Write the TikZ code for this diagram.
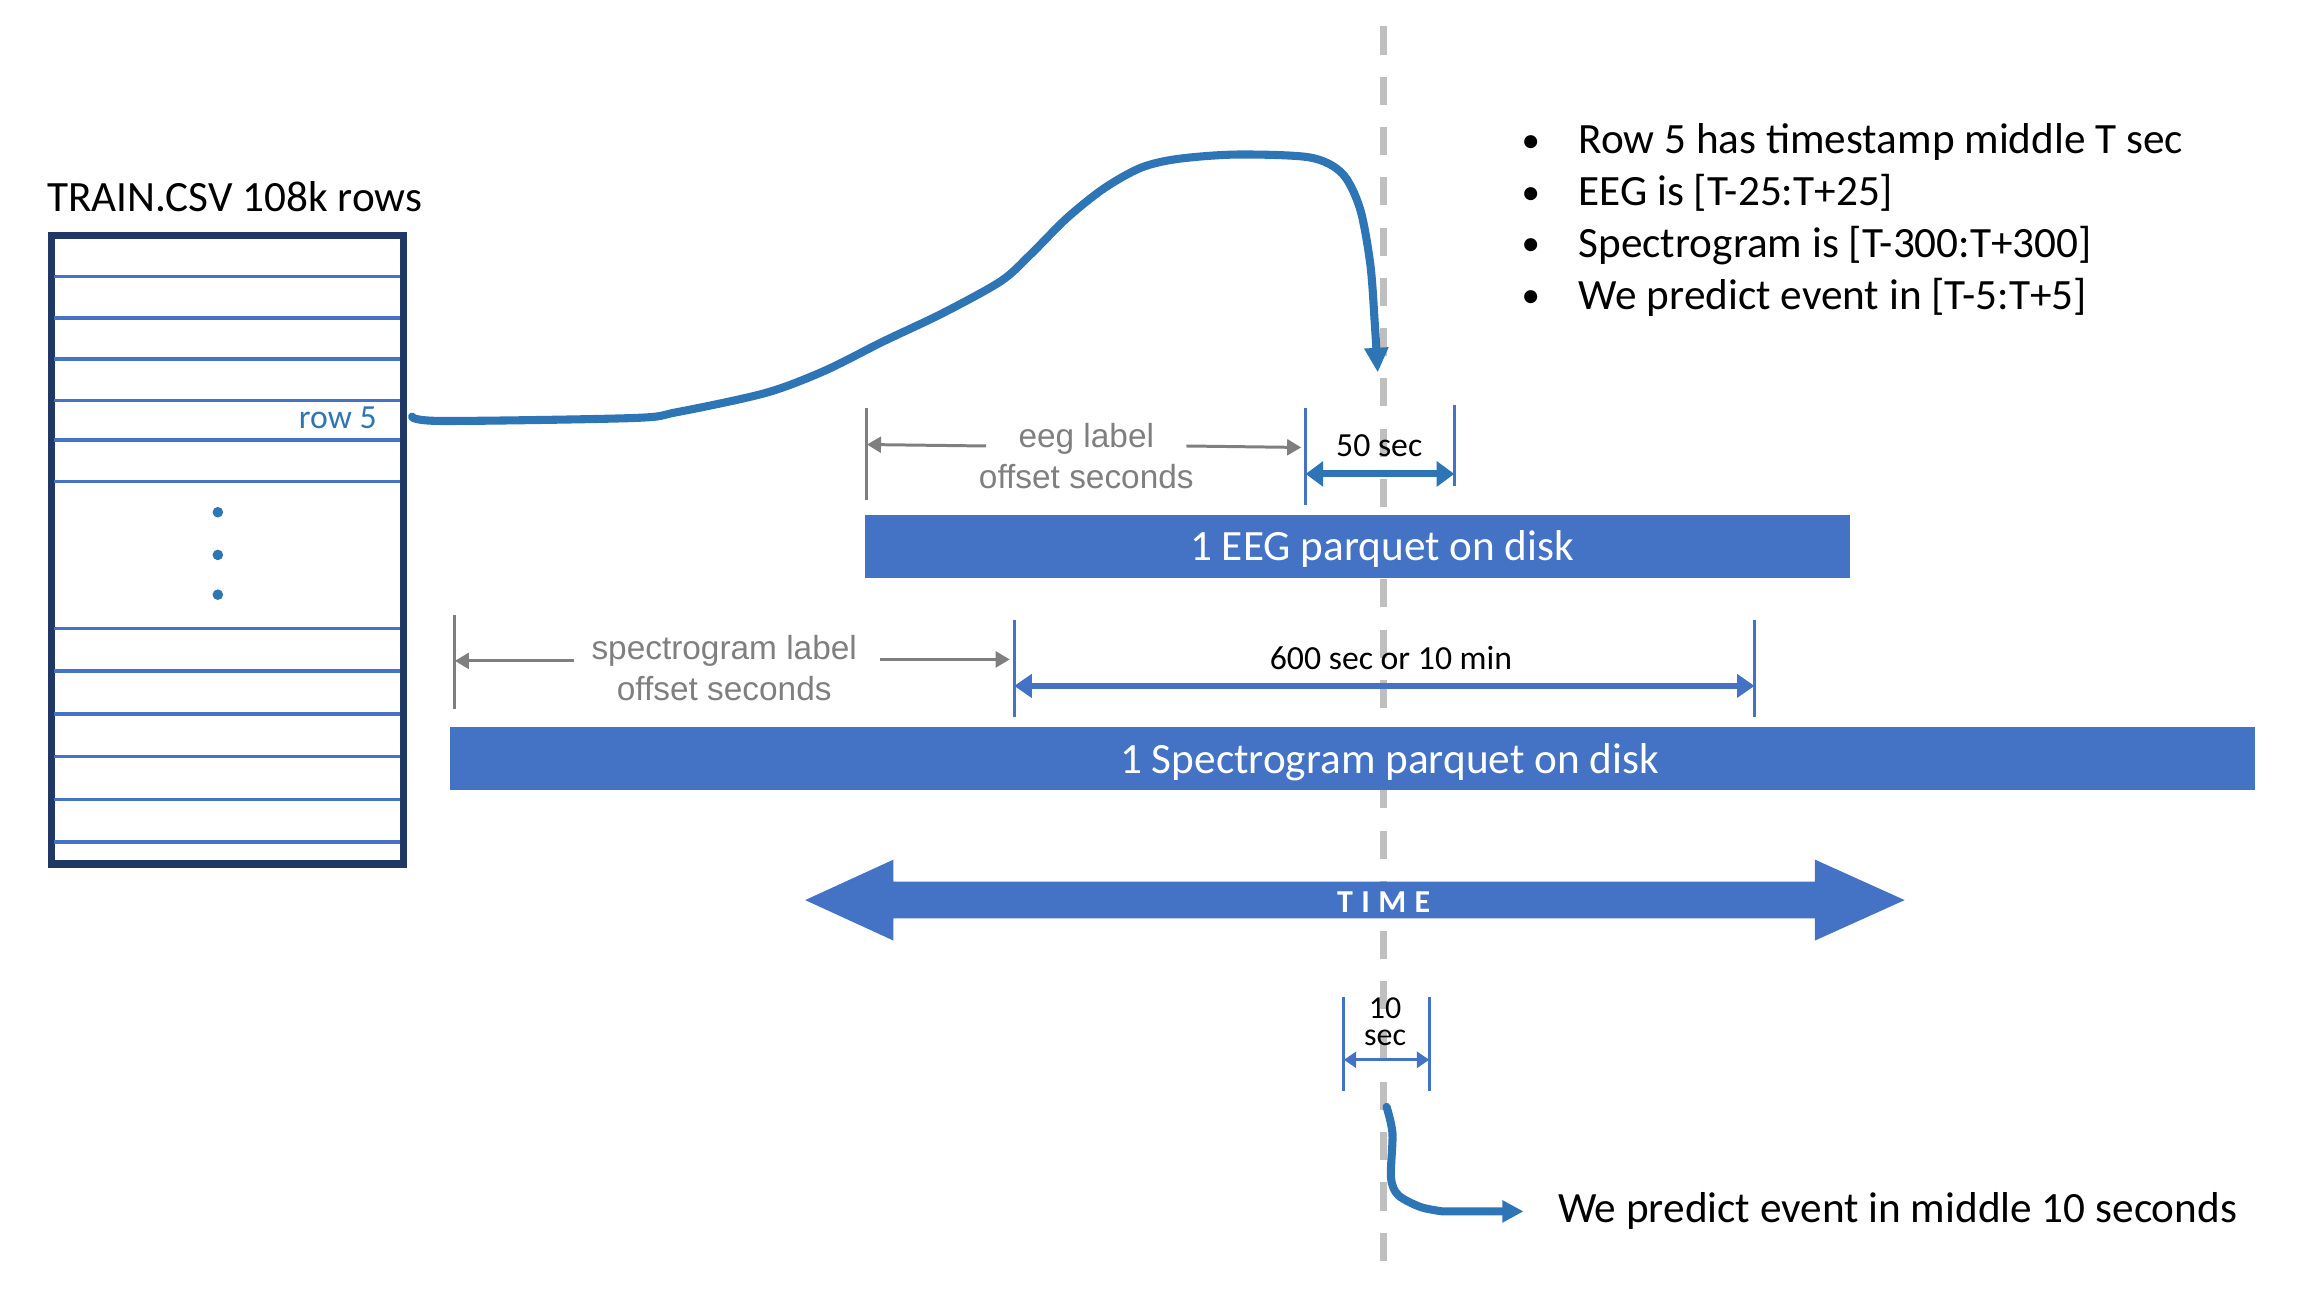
\documentclass[tikz,border=0pt]{standalone}
\usepackage{fontspec}
\setmainfont{Carlito}
\newfontfamily\grisfont{Liberation Sans}
\usepackage{tikz}
\usetikzlibrary{arrows.meta,calc,positioning}
\definecolor{azul}{HTML}{4472C4}
\definecolor{cobalto}{HTML}{2E75B6}
\definecolor{tinta}{HTML}{203864}
\definecolor{niebla}{HTML}{BFBFBF}
\definecolor{pizarra}{HTML}{7F7F7F}

\begin{document}
\begin{tikzpicture}[x=1.472cm,y=1.472cm,>={Triangle[length=4pt,width=4.5pt]},
    every node/.style={inner sep=0pt},
    grande/.style={font=\fontsize{12.3}{14.8}\selectfont},
    chico/.style={font=\fontsize{9.6}{11.5}\selectfont},
    gris/.style={font=\grisfont\fontsize{9.5}{11.7}\selectfont,text=pizarra,align=center},
    barra/.style={fill=azul,minimum height=0.633cm},
    marca/.style={azul,line width=0.85pt},
    flechagris/.style={pizarra,line width=0.85pt,->},
    curva/.style={cobalto,line width=2.3pt,line cap=round,line join=round}]
        \useasboundingbox (0,0) rectangle (15.68,8.80);
        \draw[niebla,line width=2pt,dash pattern=on 8pt off 6.3pt] (9.40,8.62) -- (9.40,0.12);
        \node[grande,anchor=base] (titulo) at (1.595,7.36) {TRAIN.CSV 108k rows};
        \node[draw=tinta,line width=2.1pt,minimum width=3.518cm,minimum height=6.285cm] (tabla) at (1.545,5.065) {};
        \foreach \y in {6.92,6.64,6.36,6.08,5.81,5.53,4.53,4.24,3.95,3.66,3.37,3.08}{\draw[azul,line width=1pt] (0.37,\y) -- (2.72,\y);}
        \foreach \y in {5.32,5.03,4.76}{\fill[cobalto] (1.48,\y) circle (0.036);}
        \node[chico,text=cobalto] (fila) at (2.295,5.96) {row 5};
        \coordinate (r5) at (2.80,5.97);
        \coordinate (t0) at (9.36,6.27);
        \draw[curva,-{Triangle[length=7pt,width=6.5pt]}] plot[smooth,tension=0.5] coordinates {(r5) (3.0,5.94) (4.3,5.96) (4.6,6.0) (5.2,6.13) (5.6,6.28) (6.0,6.48) (6.4,6.67) (6.8,6.89) (7.0,7.07) (7.25,7.32) (7.5,7.52) (7.75,7.66) (8.0,7.72) (8.4,7.75) (8.9,7.73) (9.12,7.62) (9.24,7.38) (9.31,7.0) (9.34,6.6) (t0)};
        \foreach \t [count=\i] in {Row 5 has timestamp middle T sec,EEG is [T-25:T+25],Spectrogram is [T-300:T+300],We predict event in [T-5:T+5]}{
          \node[font=\fontsize{10.5}{12}\selectfont,anchor=base] (p\i) at (10.40,8.12-0.353*\i) {\textbullet};
          \node[grande,anchor=base west] (b\i) at (10.72,8.11-0.353*\i) {\t};
        }
        \coordinate (g1a) at (5.89,6.03);
        \coordinate (g1b) at (5.89,5.40);
        \coordinate (e1a) at (8.87,6.03);
        \coordinate (e1b) at (8.87,5.37);
        \coordinate (e2a) at (9.88,6.05);
        \coordinate (e2b) at (9.88,5.50);
        \draw[pizarra,line width=0.85pt] (g1a) -- (g1b);
        \draw[marca] (e1a) -- (e1b);
        \draw[marca] (e2a) -- (e2b);
        \node[gris] (eeglbl) at (7.38,5.70) {eeg label\\offset seconds};
        \draw[flechagris] (6.70,5.77) -- (g1a |- 0,5.78);
        \draw[flechagris] (8.06,5.77) -- ($(e1a |- 0,5.76)+(-0.03,0)$);
        \node[chico] (cincuenta) at (9.37,5.77) {50 sec};
        \draw[cobalto,line width=2pt,{Triangle[length=5pt,width=7pt]}-{Triangle[length=5pt,width=7pt]}] (e1b |- 0,5.58) -- (e2a |- 0,5.58);
        \node[barra,minimum width=9.848cm] (eeg) at (9.225,5.085) {};
        \node[grande,text=white] (eegtxt) at (9.39,5.07) {1 EEG parquet on disk};
        \coordinate (g2a) at (3.09,4.62);
        \coordinate (g2b) at (3.09,3.98);
        \coordinate (s1a) at (6.89,4.59);
        \coordinate (s1b) at (6.89,3.93);
        \coordinate (s2a) at (11.92,4.59);
        \coordinate (s2b) at (11.92,3.93);
        \draw[pizarra,line width=0.85pt] (g2a) -- (g2b);
        \draw[marca] (s1a) -- (s1b);
        \draw[marca] (s2a) -- (s2b);
        \node[gris] (speclbl) at (4.92,4.26) {spectrogram label\\offset seconds};
        \draw[flechagris] (3.90,4.31) -- (g2a |- 0,4.31);
        \draw[flechagris] (5.98,4.32) -- ($(s1a |- 0,4.32)+(-0.03,0)$);
        \node[chico] (seiscientos) at (9.45,4.33) {600 sec or 10 min};
        \draw[azul,line width=1.6pt,{Triangle[length=5pt,width=6.5pt]}-{Triangle[length=5pt,width=6.5pt]}] (s1b |- 0,4.14) -- (s2a |- 0,4.14);
        \node[barra,minimum width=18.047cm] (espec) at (9.19,3.645) {};
        \node[grande,text=white] (espectxt) at (9.44,3.62) {1 Spectrogram parquet on disk};
        \fill[azul] (5.47,2.685) -- (6.07,2.96) -- (6.07,2.81) -- (12.33,2.81) -- (12.33,2.96) -- (12.94,2.685)
          -- (12.33,2.41) -- (12.33,2.56) -- (6.07,2.56) -- (6.07,2.41) -- cycle;
        \node[font=\bfseries\fontsize{9.1}{11}\selectfont,text=white] (tiempo) at (9.40,2.67) {T\kern2.4pt I\kern2.4pt M\kern2.4pt E};
        \coordinate (d1a) at (9.13,2.03);
        \coordinate (d1b) at (9.13,1.39);
        \coordinate (d2a) at (9.71,2.03);
        \coordinate (d2b) at (9.71,1.39);
        \draw[marca] (d1a) -- (d1b);
        \draw[marca] (d2a) -- (d2b);
        \node[font=\fontsize{9.1}{7.6}\selectfont,align=center] (diez) at (9.41,1.86) {10\\sec};
        \draw[azul,line width=0.9pt,{Triangle[length=3.5pt,width=4.5pt]}-{Triangle[length=3.5pt,width=4.5pt]}] (d1b |- 0,1.60) -- (d2a |- 0,1.60);
        \node[grande,anchor=west] (pred) at (10.58,0.57) {We predict event in middle 10 seconds};
        \coordinate (s0) at (9.42,1.28);
        \draw[curva,-{Triangle[length=6pt,width=6pt]}] plot[smooth,tension=0.5] coordinates {(s0) (9.46,1.10) (9.45,0.80) (9.50,0.68) (9.65,0.60) (9.80,0.57)} -- ($(pred.west)+(-0.23,0)$);
      \end{tikzpicture}
\end{document}
